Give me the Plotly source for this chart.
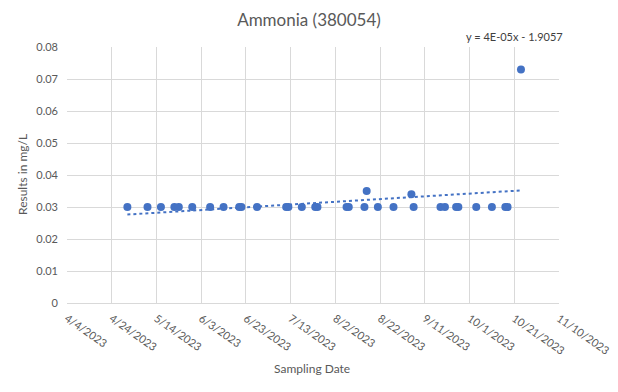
import numpy as np
import pandas as pd
import plotly.graph_objects as go

dates = ["2023-05-01", "2023-05-10", "2023-05-16", "2023-05-22", "2023-05-24",
         "2023-05-30", "2023-06-07", "2023-06-13", "2023-06-20", "2023-06-21",
         "2023-06-28", "2023-07-11", "2023-07-12", "2023-07-18", "2023-07-24",
         "2023-07-25", "2023-08-07", "2023-08-08", "2023-08-15", "2023-08-16",
         "2023-08-21", "2023-08-28", "2023-09-05", "2023-09-06", "2023-09-18",
         "2023-09-20", "2023-09-25", "2023-09-26", "2023-10-04", "2023-10-11",
         "2023-10-17", "2023-10-18", "2023-10-24"]
results = [0.03, 0.03, 0.03, 0.03, 0.03,
           0.03, 0.03, 0.03, 0.03, 0.03,
           0.03, 0.03, 0.03, 0.03, 0.03,
           0.03, 0.03, 0.03, 0.03, 0.035,
           0.03, 0.03, 0.034, 0.03, 0.03,
           0.03, 0.03, 0.03, 0.03, 0.03,
           0.03, 0.03, 0.073]

x_ticks = ["2023-04-04", "2023-04-24", "2023-05-14", "2023-06-03", "2023-06-23",
           "2023-07-13", "2023-08-02", "2023-08-22", "2023-09-11", "2023-10-01",
           "2023-10-21", "2023-11-10"]
x_tick_labels = ["4/4/2023", "4/24/2023", "5/14/2023", "6/3/2023", "6/23/2023",
                 "7/13/2023", "8/2/2023", "8/22/2023", "9/11/2023", "10/1/2023",
                 "10/21/2023", "11/10/2023"]
y_ticks = [0, 0.01, 0.02, 0.03, 0.04, 0.05, 0.06, 0.07, 0.08]
y_tick_labels = ["0", "0.01", "0.02", "0.03", "0.04", "0.05", "0.06", "0.07", "0.08"]

title = "Ammonia (380054)"
trend_label = "y = 4E-05x - 1.9057"

# linear trendline (Excel serial date as x)
dt = pd.to_datetime(dates)
serial = (dt - pd.Timestamp("1899-12-30")).days.values.astype(float)
slope, intercept = np.polyfit(serial, results, 1)
trend_x = [dt.min(), dt.max()]
trend_y = [slope * serial.min() + intercept, slope * serial.max() + intercept]

blue = "#4472C4"
grey_text = "#595959"
grid = "#d9d9d9"
font_family = "Lato, 'Open Sans', sans-serif"

fig = go.Figure()
fig.add_trace(go.Scatter(x=trend_x, y=trend_y, mode="lines",
                         line=dict(color=blue, width=2, dash="dot"),
                         showlegend=False, hoverinfo="skip"))
fig.add_trace(go.Scatter(x=dt, y=results, mode="markers",
                         marker=dict(color=blue, size=8),
                         showlegend=False))

fig.update_layout(
    width=618, height=392,
    margin=dict(l=67, r=59, t=47, b=89),
    paper_bgcolor="white", plot_bgcolor="white",
    font=dict(family=font_family, color=grey_text, size=11),
    title=dict(text=title, x=0.5, xanchor="center", y=1 - 20 / 392, yanchor="middle",
               font=dict(size=17, color=grey_text, family=font_family)),
)
fig.update_xaxes(
    type="date", range=[x_ticks[0], x_ticks[-1]], automargin=False,
    tickmode="array", tickvals=x_ticks, ticktext=x_tick_labels,
    tickangle=35, showgrid=True, gridcolor=grid, gridwidth=1,
    showline=True, linecolor=grid, zeroline=False, ticks="",
    ticklabelstandoff=4,
    tickfont=dict(size=11, color=grey_text),
)
fig.update_yaxes(
    range=[0, 0.08], tickmode="array", tickvals=y_ticks, ticktext=y_tick_labels,
    showgrid=True, gridcolor=grid, gridwidth=1, zeroline=False, automargin=False,
    showline=False, ticks="", ticklabelstandoff=8,
    tickfont=dict(size=11, color=grey_text),
)
fig.add_annotation(text="Results in mg/L", xref="paper", yref="paper",
                   x=-(67 - 22) / 492, y=0.5, textangle=-90, showarrow=False,
                   xanchor="center", yanchor="middle",
                   font=dict(size=12, color=grey_text))
fig.add_annotation(text="Sampling Date", xref="paper", yref="paper",
                   x=(312 - 67) / 492, y=-(368 - 303) / 256, showarrow=False,
                   xanchor="center", yanchor="middle",
                   font=dict(size=12, color=grey_text))
fig.add_annotation(text=trend_label, xref="paper", yref="paper",
                   x=(514 - 67) / 492, y=(303 - 36) / 256, showarrow=False,
                   xanchor="center", yanchor="middle",
                   font=dict(size=11, color="#404040"))

fig.write_html("out.html", config={"displayModeBar": False},
               post_script="document.body.style.margin='0';document.body.style.overflow='hidden';")
